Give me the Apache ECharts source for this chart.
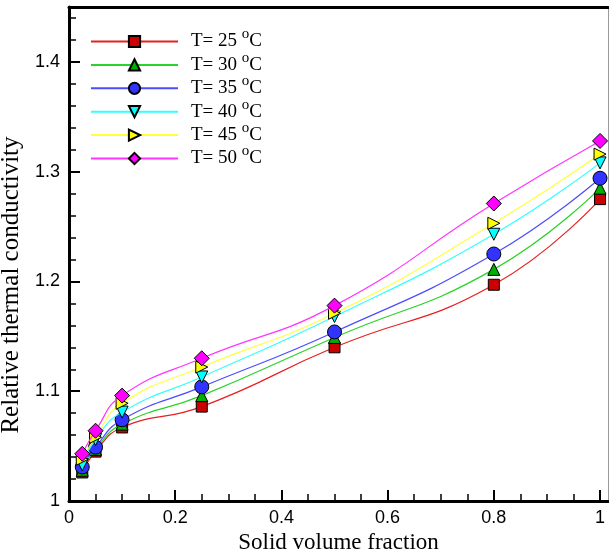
<!DOCTYPE html>
<html><head><meta charset="utf-8">
<script src="https://cdn.jsdelivr.net/npm/echarts@6/dist/echarts.min.js"></script>
<style>html,body{margin:0;padding:0;background:#fff}#c{width:609px;height:551px}</style>
</head><body><div id="c"></div>
<script>
// ---- data ----
const fractions = [0.025, 0.05, 0.1, 0.25, 0.5, 0.8, 1];
const temperatures = [25, 30, 35, 40, 45, 50];
const k25 = [1.026, 1.045, 1.067, 1.086, 1.140, 1.197, 1.275];
const k30 = [1.028, 1.047, 1.070, 1.096, 1.149, 1.211, 1.285];
const k35 = [1.031, 1.049, 1.074, 1.104, 1.154, 1.225, 1.294];
const k40 = [1.033, 1.056, 1.081, 1.113, 1.168, 1.243, 1.308];
const k45 = [1.038, 1.058, 1.089, 1.122, 1.171, 1.253, 1.316];
const k50 = [1.043, 1.064, 1.096, 1.130, 1.178, 1.271, 1.328];
const xMajorTicks = [0, 0.2, 0.4, 0.6, 0.8, 1];
const xMinorTicks = [0.05, 0.1, 0.15, 0.25, 0.3, 0.35, 0.45, 0.5, 0.55, 0.65, 0.7, 0.75, 0.85, 0.9, 0.95];
const yMajorTicks = [1, 1.1, 1.2, 1.3, 1.4];
const yMinorTicks = [1.02, 1.04, 1.06, 1.08, 1.12, 1.14, 1.16, 1.18, 1.22, 1.24, 1.26, 1.28, 1.32, 1.34, 1.36, 1.38, 1.42, 1.44];

// ---- styling ----
const allValues = [k25, k30, k35, k40, k45, k50];
const lineColors = ['#e62020', '#2ad22a', '#4d4dff', '#33ffff', '#ffff40', '#ff33ff'];
const fillColors = ['#cc0000', '#00b000', '#3333ff', '#00ffff', '#ffff00', '#ff00ff'];
const symbols = ['rect', 'triangle', 'circle', 'triangle', 'triangle', 'diamond'];
const rotations = [0, 0, 0, 180, -90, 0];
const sizes = [11, 12, 14, 12, 12, 15];

const series = temperatures.map((t, i) => ({
  type: 'line',
  name: 'T= ' + t + ' oC',
  data: fractions.map((x, j) => [x, allValues[i][j]]),
  smooth: 0.5,
  symbol: symbols[i],
  symbolRotate: rotations[i],
  symbolSize: sizes[i],
  showAllSymbol: true,
  xAxisIndex: 0, yAxisIndex: 0,
  lineStyle: { color: lineColors[i], width: 1.2 },
  itemStyle: { color: fillColors[i], borderColor: '#000', borderWidth: 1 },
  emphasis: { disabled: true },
  z: 2 + i
}));

const chart = echarts.init(document.getElementById('c'), null, { renderer: 'canvas' });
chart.setOption({
  animation: false,
  backgroundColor: '#fff',
  grid: { left: 69, right: 1, top: 7, bottom: 50, containLabel: false, outerBoundsMode: 'none' },
  legend: {
    orient: 'vertical', left: 90, top: 27,
    itemWidth: 87, itemHeight: 14, itemGap: -0.6,
    selectedMode: false,
    formatter: name => '{p|' + name.replace(' oC', ' ') + '}{sup|o}{a|C}',
    textStyle: {
      color: '#000',
      rich: {
        p: { fontFamily: 'Liberation Serif', fontSize: 19, lineHeight: 20, color: '#000', padding: [0, 0, 0, 8] },
        a: { fontFamily: 'Liberation Serif', fontSize: 19, lineHeight: 20, color: '#000' },
        sup: { fontFamily: 'Liberation Serif', fontSize: 15, height: 6, lineHeight: 6, verticalAlign: 'top', color: '#000' }
      }
    },
    padding: 0
  },
  xAxis: [
    {
      type: 'value', min: 0, max: 1.015, interval: 0.2, position: 'bottom',
      axisLine: { show: true, onZero: false, lineStyle: { color: '#000', width: 3 } },
      axisTick: { show: true, inside: true, length: 11, lineStyle: { color: '#000', width: 2 }, customValues: xMajorTicks },
      axisLabel: { customValues: xMajorTicks, formatter: v => String(+v.toFixed(1)), fontFamily: 'Liberation Sans', fontSize: 18, color: '#000', margin: 8 },
      splitLine: { show: false },
      name: 'Solid volume fraction', nameLocation: 'middle', nameGap: 21,
      nameTextStyle: { fontFamily: 'Liberation Serif', fontSize: 23, color: '#000' }
    },
    {
      type: 'value', min: 0, max: 1.015, position: 'bottom',
      axisLine: { show: false },
      axisTick: { show: true, inside: true, length: 7, lineStyle: { color: '#000', width: 1.5 }, customValues: xMinorTicks },
      axisLabel: { show: false }, splitLine: { show: false }
    },
    {
      type: 'value', min: 0, max: 1.015, position: 'top',
      axisLine: { show: true, onZero: false, lineStyle: { color: '#000', width: 3 } },
      axisTick: { show: false }, axisLabel: { show: false }, splitLine: { show: false }
    }
  ],
  yAxis: [
    {
      type: 'value', min: 1, max: 1.45, interval: 0.1, position: 'left',
      axisLine: { show: true, onZero: false, lineStyle: { color: '#000', width: 3 } },
      axisTick: { show: true, inside: true, length: 11, lineStyle: { color: '#000', width: 2 }, customValues: yMajorTicks },
      axisLabel: { customValues: yMajorTicks, formatter: v => (Math.abs(v - 1) < 1e-9 ? '1' : v.toFixed(1)), fontFamily: 'Liberation Sans', fontSize: 18, color: '#000', margin: 9 },
      splitLine: { show: false },
      name: 'Relative thermal conductivity', nameLocation: 'middle', nameGap: 41,
      nameTextStyle: { fontFamily: 'Liberation Serif', fontSize: 25, color: '#000', padding: [0, 62, 0, 0] }
    },
    {
      type: 'value', min: 1, max: 1.45, position: 'left',
      axisLine: { show: false },
      axisTick: { show: true, inside: true, length: 7, lineStyle: { color: '#000', width: 1.5 }, customValues: yMinorTicks },
      axisLabel: { show: false }, splitLine: { show: false }
    },
    {
      type: 'value', min: 1, max: 1.45, position: 'right',
      axisLine: { show: true, onZero: false, lineStyle: { color: '#999', width: 1 } },
      axisTick: { show: false }, axisLabel: { show: false }, splitLine: { show: false }
    }
  ],
  series: series
});
</script></body></html>
